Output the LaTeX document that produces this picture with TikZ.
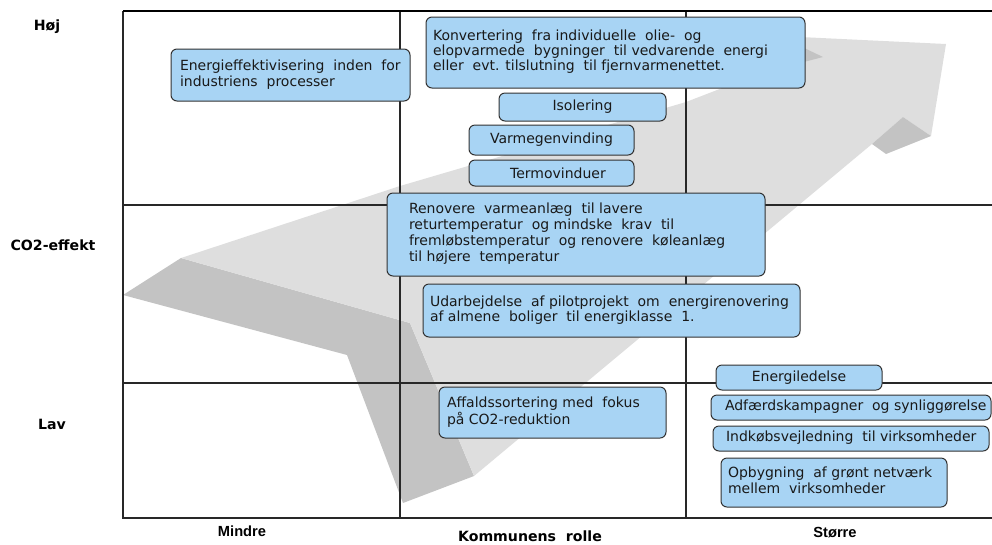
\documentclass[tikz,border=0pt]{standalone}
\usepackage{fontspec}
\setmainfont{DejaVu Sans}
\newfontfamily\lsans{Liberation Sans}

\definecolor{boxfill}{RGB}{168,212,244}
\definecolor{boxline}{RGB}{50,50,50}
\definecolor{gridcol}{RGB}{40,40,40}
\definecolor{facelight}{RGB}{222,222,222}
\definecolor{facedark}{RGB}{195,195,195}
\definecolor{txtcol}{RGB}{25,25,25}

% box text: fixed box width #2, left inset #1, lines in #3
\newcommand\insettext[3]{\makebox[#2][l]{\hspace*{#1}\begin{tabular}{@{}l@{}}#3\end{tabular}}}

\tikzset{
  gridln/.style={draw=gridcol, line width=0.8pt},
  bx/.style={draw=boxline, fill=boxfill, rounded corners=4.5pt, line width=0.75pt,
    inner sep=0pt, text=txtcol, font=\fontsize{10.5}{12}\selectfont},
  tightbx/.style={bx, font=\fontsize{10.5}{10.9}\selectfont},
  axlab/.style={font=\bfseries\fontsize{10.6}{12}\selectfont, inner sep=0pt},
  axlabn/.style={font=\lsans\bfseries\fontsize{11}{12}\selectfont, inner sep=0pt}
}

\begin{document}
\begin{tikzpicture}[x=0.75pt, y=-0.75pt]
\path[use as bounding box] (0,0) rectangle (992,544);

% the bent 3D arrow in the background
\fill[facedark] (123,295) -- (181,258) -- (410,323) -- (474,476) -- (403,503) -- (347,355) -- cycle;
\fill[facelight] (181,258) -- (400,186) -- (686,102) -- (800,58) -- (800,37) -- (946,44)
  -- (931,136) -- (903,117) -- (872,144) -- (474,476) -- (410,323) -- cycle;
\fill[facedark] (903,117) -- (931,136) -- (886,154) -- (872,144) -- cycle;
\fill[facedark] (800,46) -- (823,57) -- (800,63) -- cycle;

% frame and grid
\coordinate (tl) at (123,11);
\coordinate (tr) at (992,11);
\coordinate (bl) at (123,518);
\coordinate (br) at (992,518);
\coordinate (m1t) at (400,11);
\coordinate (m1b) at (400,518);
\coordinate (m2t) at (686,11);
\coordinate (m2b) at (686,518);
\coordinate (h1l) at (123,205);
\coordinate (h1r) at (992,205);
\coordinate (h2l) at (123,383);
\coordinate (h2r) at (992,383);
\draw[gridln] (m1t) -- (m1b);
\draw[gridln] (m2t) -- (m2b);
\draw[gridln] (h1l) -- (h1r);
\draw[gridln] (h2l) -- (h2r);
\draw[gridln, line width=1.1pt] (tl) -- (bl) -- (br);
\draw[draw=black, line width=1.9pt] (tl) -- (tr);

% axis labels
\node[axlab] (hoej) at (47,27) {Høj};
\node[axlab] (co2) at (53,245) {CO2-effekt};
\node[axlab] (lav) at (52,424) {Lav};
\node[axlabn] (mindre) at (242,531) {Mindre};
\node[axlab] (rolle) at (530,536) {Kommunens~ rolle};
\node[axlabn] (stoerre) at (835,533) {Større};

% measures
\node[bx, minimum width=179.25pt, minimum height=39pt] (industri) at (290.5,75)
  {\insettext{6.75pt}{179.25pt}{Energieffektivisering~ inden~ for\\industriens~ processer}};
\node[tightbx, minimum width=284.25pt, minimum height=53.25pt] (konv) at (615.5,52.5)
  {\insettext{5.25pt}{284.25pt}{Konvertering~ fra individuelle~ olie-~ og\\elopvarmede~ bygninger~ til vedvarende~ energi\\eller~ evt. tilslutning~ til fjernvarmenettet.}};
\node[bx, minimum width=125.25pt, minimum height=21pt] (isol) at (582.5,107) {Isolering};
\node[bx, minimum width=123.75pt, minimum height=22.5pt] (varme) at (551.5,140) {Varmegenvinding};
\node[bx, minimum width=123.75pt, minimum height=19.5pt] (termo) at (551.5,173) {\hspace*{9.75pt}Termovinduer};
\node[bx, minimum width=283.5pt, minimum height=62.25pt] (renov) at (576,234.5)
  {\insettext{16.5pt}{283.5pt}{Renovere~ varmeanlæg~ til lavere\\returtemperatur~ og mindske~ krav~ til\\fremløbstemperatur~ og renovere~ køleanlæg\\til højere~ temperatur}};
\node[tightbx, minimum width=282.75pt, minimum height=39.75pt] (pilot) at (611.5,310.5)
  {\insettext{5.25pt}{282.75pt}{Udarbejdelse~ af pilotprojekt~ om~ energirenovering\\af almene~ boliger~ til energiklasse~ 1.}};
\node[bx, minimum width=124.5pt, minimum height=18.75pt] (eled) at (799,377.5) {Energiledelse};
\node[bx, minimum width=210pt, minimum height=18.75pt] (adf) at (851,407.5)
  {\insettext{10.5pt}{210pt}{Adfærdskampagner~ og synliggørelse}};
\node[bx, minimum width=207pt, minimum height=18.75pt] (indk) at (851,438.5)
  {\insettext{9.75pt}{207pt}{Indkøbsvejledning~ til virksomheder}};
\node[bx, minimum width=169.5pt, minimum height=36.75pt] (netv) at (834,482.5)
  {\insettext{5.25pt}{169.5pt}{Opbygning~ af grønt netværk\\mellem~ virksomheder}};
\node[bx, minimum width=170.25pt, minimum height=38.25pt] (affald) at (552.5,412.5)
  {\insettext{6pt}{170.25pt}{Affaldssortering med~ fokus\\på CO2-reduktion}};
\end{tikzpicture}
\end{document}
